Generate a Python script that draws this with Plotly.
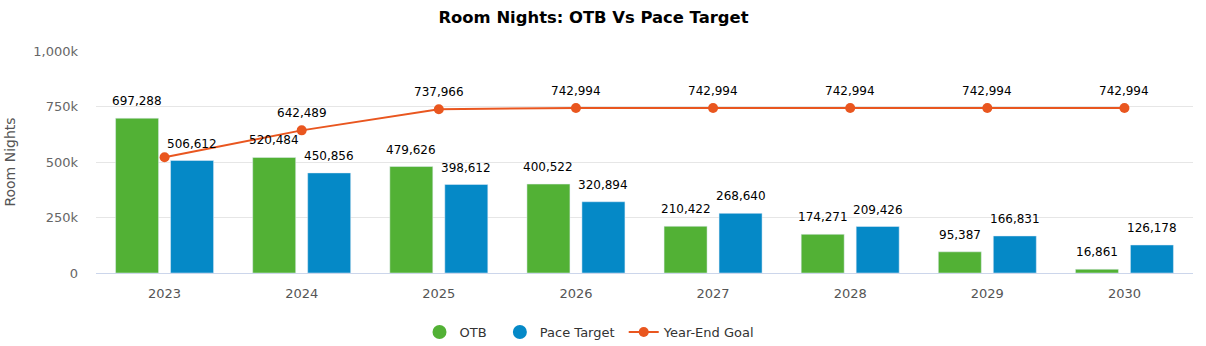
import plotly.graph_objects as go

years = ["2023", "2024", "2025", "2026", "2027", "2028", "2029", "2030"]
otb = [697288, 520484, 479626, 400522, 210422, 174271, 95387, 16861]
pace_target = [506612, 450856, 398612, 320894, 268640, 209426, 166831, 126178]
year_end_goal = [521500, 642489, 737966, 742994, 742994, 742994, 742994, 742994]
goal_label_shown = [False, True, True, True, True, True, True, True]

y_tick_vals = [0, 250000, 500000, 750000, 1000000]
y_tick_text = ["0", "250k", "500k", "750k", "1,000k"]

GREEN = "#52B135"
BLUE = "#0589C7"
ORANGE = "#E9561F"
FONT = "DejaVu Sans, sans-serif"
label_font = dict(family=FONT, size=12, color="#000000")

BARGAP = 0.198
BARGROUPGAP = 0.218
slot = (1 - BARGAP) / 2  # width of one bar slot, in category units
xpos = list(range(len(years)))

fig = go.Figure()
fig.add_trace(go.Bar(x=xpos, y=otb, name="OTB", marker_color=GREEN, showlegend=False))
fig.add_trace(go.Bar(x=xpos, y=pace_target, name="Pace Target", marker_color=BLUE, showlegend=False))
fig.add_trace(go.Scatter(
    x=xpos, y=year_end_goal, name="Year-End Goal", mode="lines+markers",
    line=dict(color=ORANGE, width=2), marker=dict(color=ORANGE, size=10),
    cliponaxis=False,
))

# Round legend symbols for the bar series
for name, color in [("OTB\u00a0\u00a0", GREEN), ("Pace Target\u00a0", BLUE)]:
    fig.add_trace(go.Scatter(
        x=[None], y=[None], mode="markers", name=name,
        marker=dict(color=color, size=14, symbol="circle"),
    ))

# Value labels above bars and goal markers
annotations = []
for i, (a, b) in enumerate(zip(otb, pace_target)):
    for offset, v in ((-slot / 2, a), (slot / 2, b)):
        annotations.append(dict(x=i + offset, y=v, xref="x", yref="y", text=f"{v:,}",
                                showarrow=False, yanchor="middle", yshift=17, font=label_font))
for i, (v, show) in enumerate(zip(year_end_goal, goal_label_shown)):
    if show:
        annotations.append(dict(x=i, y=v, xref="x", yref="y", text=f"{v:,}",
                                showarrow=False, yanchor="middle", yshift=17, font=label_font))

fig.update_layout(
    width=1206, height=346,
    margin=dict(l=96, r=13, t=51, b=73, autoexpand=False),
    paper_bgcolor="white", plot_bgcolor="white",
    barmode="group", bargap=BARGAP, bargroupgap=BARGROUPGAP,
    title=dict(text="<b>Room Nights: OTB Vs Pace Target</b>", xref="container",
               x=593.5 / 1206, xanchor="center", y=0.95, yanchor="middle",
               font=dict(family=FONT, size=16.4, color="#000000")),
    font=dict(family=FONT),
    legend=dict(orientation="h", xref="container", yref="container",
                x=590 / 1206, xanchor="center", y=14 / 346, yanchor="middle",
                traceorder="normal", font=dict(family=FONT, size=13, color="#333333")),
    annotations=annotations,
    xaxis=dict(
        type="linear", tickmode="array", tickvals=xpos, ticktext=years,
        showgrid=False, showline=True, linecolor="#ccd6eb", linewidth=1, zeroline=False,
        ticks="", tickfont=dict(family=FONT, size=13, color="#555555"),
        ticklabelstandoff=8, range=[-0.5, 7.5],
    ),
    yaxis=dict(
        range=[0, 1000000], tickvals=y_tick_vals, ticktext=y_tick_text,
        showgrid=True, gridcolor="#e6e6e6", gridwidth=1, zeroline=False,
        tickfont=dict(family=FONT, size=13, color="#666666"),
        title=dict(text="Room Nights", font=dict(family=FONT, size=14, color="#555555"), standoff=14),
        ticklabelstandoff=17,
    ),
)

# Legend order: OTB, Pace Target, Year-End Goal
fig.data = (fig.data[0], fig.data[1], fig.data[3], fig.data[4], fig.data[2])

fig.write_html("out.html")
